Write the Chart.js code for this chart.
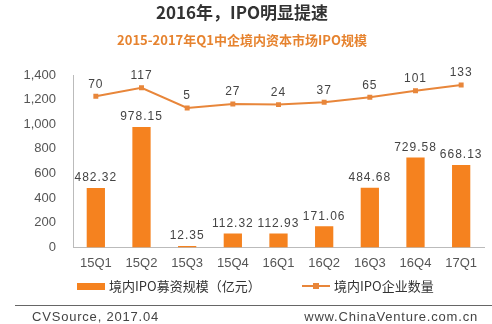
<!DOCTYPE html>
<html>
<head>
<meta charset="utf-8">
<script src="https://cdn.jsdelivr.net/npm/chart.js@4"></script>
<style>
  body { margin: 0; background: #fff; }
  #wrap { position: relative; width: 492px; height: 324px; overflow: hidden; }
  #box { position: absolute; left: 0; top: 0; width: 492px; height: 324px; }
  .rule { position: absolute; left: 15px; right: 0; top: 305px; border-top: 1px solid #666; }
  .foot { position: absolute; top: 309px; font: 13px "Liberation Sans", Arial, sans-serif; color: #444; letter-spacing: 0.8px; }
  .leg { position: absolute; top: 277px; font: 13px "Noto Sans CJK SC", sans-serif; color: #333; line-height: 18px; }
  .leg i { display: inline-block; vertical-align: middle; margin-right: 4px; position: relative; top: -1px; }
</style>
</head>
<body>
<div id="wrap">
  <div id="box"><canvas id="chart"></canvas></div>
  <div class="leg" style="left:77px"><i id="legBar"></i>境内IPO募资规模（亿元）</div>
  <div class="leg" style="left:302px"><i id="legLine"></i>境内IPO企业数量</div>
  <div class="rule"></div>
  <div class="foot" style="left:32px">CVSource, 2017.04</div>
  <div class="foot" style="right:14px">www.ChinaVenture.com.cn</div>
</div>
<script>
// quarterly IPO figures
const quarters = ['15Q1', '15Q2', '15Q3', '15Q4', '16Q1', '16Q2', '16Q3', '16Q4', '17Q1'];
const raised = [482.32, 978.15, 12.35, 112.32, 112.93, 171.06, 484.68, 729.58, 668.13];
const ipoCount = [70, 117, 5, 27, 24, 37, 65, 101, 133];
const yTicks = [0, 200, 400, 600, 800, 1000, 1200, 1400];

const barColor = '#f5821f';
const lineColor = '#e8863a';

// legend swatches
document.getElementById('legBar').style.cssText += `width:28px;height:7px;background:${barColor}`;
document.getElementById('legLine').style.cssText +=
    `width:28px;height:6px;background:linear-gradient(${lineColor},${lineColor}) center/6px 6px no-repeat,` +
    `linear-gradient(${lineColor},${lineColor}) center/28px 2px no-repeat`;

const valueLabels = {
    id: 'valueLabels',
    afterDatasetsDraw(chart) {
        const ctx = chart.ctx;
        ctx.save();
        ctx.font = '12px "Liberation Sans", Arial, sans-serif';
        ctx.fillStyle = '#444';
        ctx.textAlign = 'center';
        ctx.textBaseline = 'bottom';
        ctx.letterSpacing = '1px';
        chart.getDatasetMeta(0).data.forEach((el, i) => {
            ctx.fillText(raised[i].toFixed(2), el.x, el.y - 4);
        });
        chart.getDatasetMeta(1).data.forEach((el, i) => {
            ctx.fillText(String(ipoCount[i]), el.x, el.y - 6);
        });
        ctx.restore();
    }
};

let ctx = document.getElementById('chart').getContext('2d');
let myChart = new Chart(ctx, {
    data: {
        labels: quarters,
        datasets: [{
            type: 'bar',
            label: '境内IPO募资规模（亿元）',
            data: raised,
            backgroundColor: barColor,
            barPercentage: 0.4,
            categoryPercentage: 1,
            yAxisID: 'y',
            order: 2
        }, {
            type: 'line',
            label: '境内IPO企业数量',
            data: ipoCount,
            borderColor: lineColor,
            backgroundColor: lineColor,
            borderWidth: 2,
            pointStyle: 'rect',
            pointRadius: 3.5,
            pointBorderWidth: 0,
            yAxisID: 'y1',
            order: 1
        }]
    },
    options: {
        responsive: true,
        maintainAspectRatio: false,
        animation: false,
        layout: { padding: { left: 0, right: 8, bottom: 45 } },
        scales: {
            x: {
                grid: { display: false, drawTicks: false },
                border: { color: '#bbb' },
                ticks: { color: '#555', padding: 8, font: { family: '"Liberation Sans", Arial, sans-serif', size: 13 } }
            },
            y: {
                min: 0, max: 1400,
                afterBuildTicks(axis) { axis.ticks = yTicks.map(v => ({ value: v })); },
                afterFit(axis) { axis.width = 73; },
                grid: { display: false, drawTicks: false },
                border: { color: '#bbb' },
                ticks: {
                    color: '#555', padding: 17,
                    font: { family: '"Liberation Sans", Arial, sans-serif', size: 13 },
                    callback: v => v.toLocaleString('en-US')
                }
            },
            y1: {
                display: false,
                position: 'right',
                min: -767, max: 188
            }
        },
        plugins: {
            title: {
                display: true,
                text: '2016年，IPO明显提速',
                color: '#333',
                font: { family: '"Noto Sans CJK SC", sans-serif', size: 17, weight: 'bold' },
                padding: { top: 2, bottom: 10 }
            },
            subtitle: {
                display: true,
                text: '2015-2017年Q1中企境内资本市场IPO规模',
                color: '#e6832f',
                font: { family: '"Noto Sans CJK SC", sans-serif', size: 13, weight: 'bold' },
                padding: { bottom: 27 }
            },
            legend: { display: false },
            tooltip: { enabled: false }
        }
    },
    plugins: [valueLabels]
});
</script>
</body>
</html>
